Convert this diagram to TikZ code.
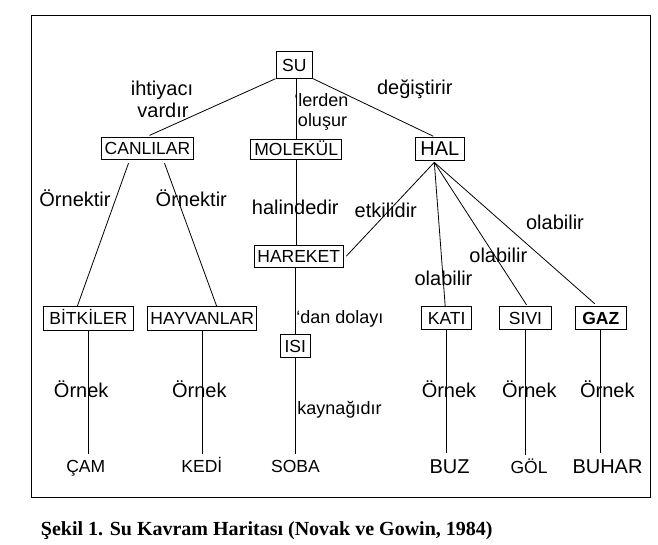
\documentclass[tikz,border=0pt]{standalone}
\usepackage{fontspec}
\setmainfont{Liberation Sans}
\newfontfamily\capfont{Liberation Serif}
\usepackage{tikz}
\usetikzlibrary{calc}

\begin{document}
\begin{tikzpicture}[
  x=1pt, y=-1pt,
  concept/.style={
    draw,
    line width=0.8pt,
    inner xsep=1pt,
    inner ysep=0pt,
    minimum height=22pt,
    text height=12.5pt,
    text depth=0pt,
    font=\fontsize{17.5}{20}\selectfont
  },
  bigconcept/.style={
    concept,
    text height=14.3pt,
    font=\fontsize{20}{22}\selectfont
  },
  leaf/.style={
    inner xsep=0pt,
    inner ysep=6pt,
    text height=12.5pt,
    text depth=0pt,
    font=\fontsize{17.5}{20}\selectfont
  },
  bigleaf/.style={
    leaf,
    text height=14.3pt,
    font=\fontsize{20}{22}\selectfont
  },
  lab/.style={
    inner sep=0pt,
    text height=14.3pt,
    text depth=0pt,
    font=\fontsize{20}{22}\selectfont
  },
  smalllab/.style={
    lab,
    text height=12.9pt,
    font=\fontsize{18}{20}\selectfont
  },
  link/.style={line width=0.8pt}
]
\useasboundingbox (0,0) rectangle (658,545);
\draw[line width=1pt] (31.7,16) rectangle (650.7,497.7);

% concepts
\node[concept, minimum width=36.7pt, minimum height=26.6pt] (su) at (294.3,65) {SU};
\node[concept, minimum width=91.6pt] (canlilar) at (147.5,148.3) {CANLILAR};
\node[concept, minimum width=91pt, minimum height=20pt] (molekul) at (296.2,149.3) {MOLEKÜL};
\node[bigconcept, minimum width=48.3pt, minimum height=22.3pt] (hal) at (439.8,148.8) {HAL};
\node[concept, minimum width=89.3pt, minimum height=22.3pt] (hareket) at (298.7,256.2) {HAREKET};
\node[concept, minimum width=90pt, minimum height=24pt] (bitkiler) at (88.3,318.7) {BİTKİLER};
\node[concept, minimum width=109pt, minimum height=24pt] (hayvanlar) at (202.2,318.7) {HAYVANLAR};
\node[concept, minimum width=30.7pt, minimum height=23pt] (isi) at (295.3,345.8) {ISI};
\node[concept, minimum width=50pt, minimum height=22.6pt] (kati) at (446.7,318) {KATI};
\node[concept, minimum width=52.4pt, minimum height=22.6pt] (sivi) at (525.5,318) {SIVI};
\node[concept, minimum width=51.7pt, minimum height=22.6pt, font=\fontsize{17.5}{20}\selectfont\bfseries] (gaz) at (600.8,318) {GAZ};

% examples
\node[leaf] (cam) at (85.8,466.7) {ÇAM};
\node[leaf] (kedi) at (201.9,466.7) {KEDİ};
\node[leaf] (soba) at (295.5,466.7) {SOBA};
\node[bigleaf] (buz) at (449.5,466.3) {BUZ};
\node[leaf] (gol) at (529,467) {GÖL};
\node[bigleaf] (buhar) at (607.5,466.3) {BUHAR};

% links
\coordinate (halfoot) at ([xshift=-5.5pt,yshift=-2pt]hal.south);
\draw[link] (su.south west) -- ([xshift=2pt,yshift=1.5pt]canlilar.north);
\draw[link] (molekul.north) -- (molekul.north |- su.south);
\draw[link] (su.south east) -- ([xshift=-6.5pt,yshift=1pt]hal.north);
\draw[link] ([xshift=-19pt,yshift=-3.5pt]canlilar.south) -- ([xshift=-11pt]bitkiler.north);
\draw[link] ([xshift=17pt,yshift=-3.5pt]canlilar.south) -- ([xshift=14.5pt]hayvanlar.north);
\draw[link] (molekul.south) -- (molekul.south |- hareket.north);
\draw[link] (isi.north) -- (isi.north |- hareket.south);
\draw[link] (halfoot) -- ([xshift=2.5pt]hareket.east);
\draw[link] (halfoot) -- ([xshift=-1.5pt]kati.north);
\draw[link] (halfoot) -- ([xshift=1pt,yshift=1.5pt]sivi.north);
\draw[link] (halfoot) -- ([xshift=-6pt,yshift=2.5pt]gaz.north);
\draw[link] (bitkiler.south) -- (bitkiler.south |- cam.north);
\draw[link] (hayvanlar.south) -- (hayvanlar.south |- kedi.north);
\draw[link] (isi.south) -- (isi.south |- soba.north);
\draw[link] (kati.south) -- (kati.south |- buz.north);
\draw[link] (sivi.south) -- (sivi.south |- gol.north);
\draw[link] (gaz.south) -- (gaz.south |- buhar.north);

% link words
\node[lab] (ihtiyaci) at (162,88.8) {ihtiyacı};
\node[lab] (vardir) at (163,110) {vardır};
\node[smalllab] (lerden) at (321.5,100.5) {‘lerden};
\node[smalllab] (olusur) at (322.5,120.5) {oluşur};
\node[lab] (degistirir) at (414.8,87) {değiştirir};
\node[lab] (ornektirA) at (75,199.2) {Örnektir};
\node[lab] (ornektirB) at (191.3,199.2) {Örnektir};
\node[lab] (halindedir) at (295.3,207) {halindedir};
\node[lab] (etkilidir) at (385.8,210.3) {etkilidir};
\node[lab] (olabilirA) at (555,222.5) {olabilir};
\node[lab] (olabilirB) at (498.3,255) {olabilir};
\node[lab] (olabilirC) at (443.5,278.7) {olabilir};
\node[smalllab] (danDolayi) at (340,317.5) {‘dan dolayı};
\node[smalllab] (kaynagidir) at (339.5,408.3) {kaynağıdır};
\foreach \x/\n in {81.2/A,199.3/B,449/C,529.3/D,607.3/E}
  \node[lab] (ornek\n) at (\x,390.8) {Örnek};

% caption
\node[anchor=west, inner sep=0pt, text height=13.2pt, text depth=0pt,
  font=\capfont\bfseries\fontsize{20}{22}\selectfont] (caption) at (40.7,528.5)
  {Şekil 1. Su Kavram Haritası (Novak ve Gowin, 1984)};
\end{tikzpicture}
\end{document}
